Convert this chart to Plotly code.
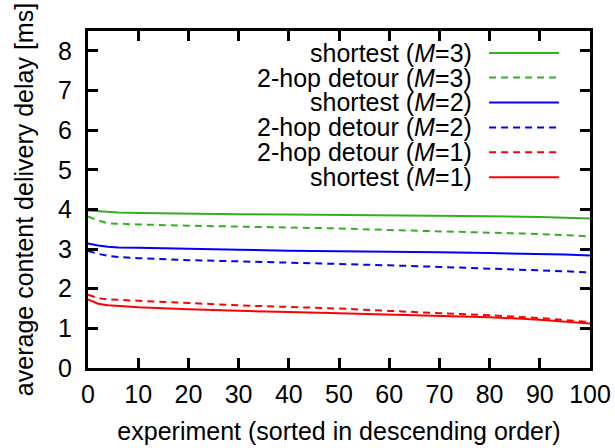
import plotly.graph_objects as go

experiment = [0, 2, 4, 6, 10, 20, 30, 40, 50, 60, 70, 80, 90, 95, 100]

shortest_m3 = [3.97, 3.95, 3.93, 3.92, 3.91, 3.89, 3.88, 3.87, 3.86, 3.86, 3.85, 3.83, 3.81, 3.79, 3.77]
detour_m3 = [3.82, 3.72, 3.65, 3.64, 3.62, 3.59, 3.57, 3.55, 3.52, 3.48, 3.45, 3.42, 3.38, 3.35, 3.32]
shortest_m2 = [3.14, 3.09, 3.06, 3.04, 3.03, 3.00, 2.98, 2.96, 2.95, 2.93, 2.92, 2.90, 2.88, 2.86, 2.84]
detour_m2 = [2.95, 2.88, 2.83, 2.80, 2.77, 2.72, 2.69, 2.66, 2.63, 2.59, 2.55, 2.51, 2.47, 2.44, 2.41]
detour_m1 = [1.85, 1.76, 1.73, 1.72, 1.70, 1.64, 1.58, 1.54, 1.50, 1.44, 1.39, 1.33, 1.26, 1.21, 1.16]
shortest_m1 = [1.73, 1.62, 1.58, 1.56, 1.53, 1.48, 1.44, 1.41, 1.38, 1.35, 1.32, 1.28, 1.22, 1.17, 1.12]

labels = [
    "shortest (<i>M</i>=3)",
    "2-hop detour (<i>M</i>=3)",
    "shortest (<i>M</i>=2)",
    "2-hop detour (<i>M</i>=2)",
    "2-hop detour (<i>M</i>=1)",
    "shortest (<i>M</i>=1)",
]
series = [shortest_m3, detour_m3, shortest_m2, detour_m2, detour_m1, shortest_m1]
colors = ["#33b020", "#33b020", "#0000ff", "#0000ff", "#ff0000", "#ff0000"]
dashes = ["solid", "7px,5px", "solid", "7px,5px", "7px,5px", "solid"]

FONT = "Liberation Sans, Arial, Helvetica, sans-serif"
FS = 25

fig = go.Figure()
for lab, ys, c, d in zip(labels, series, colors, dashes):
    fig.add_trace(go.Scatter(x=experiment, y=ys, mode="lines", name=lab,
                             line=dict(color=c, width=2, dash=d), showlegend=False))

# custom gnuplot-style legend: text on the left, sample on the right
row_y = [0.935, 0.862, 0.788, 0.714, 0.640, 0.566]
for lab, c, d, yy in zip(labels, colors, dashes, row_y):
    fig.add_annotation(xref="paper", yref="paper", x=0.769, y=yy, text=lab,
                       showarrow=False, xanchor="right", yanchor="middle",
                       font=dict(family=FONT, size=FS, color="black"))
    fig.add_shape(type="line", xref="paper", yref="paper", x0=0.799, x1=0.938,
                  y0=yy, y1=yy, line=dict(color=c, width=2, dash=d))

axis_common = dict(showline=True, linecolor="black", linewidth=3, mirror="ticks",
                   ticks="inside", ticklen=10, tickwidth=3, tickcolor="black",
                   showgrid=False, zeroline=False, automargin=False,
                   tickfont=dict(family=FONT, size=FS, color="black"))

fig.update_xaxes(range=[0, 100], tickmode="linear", tick0=0, dtick=10,
                 title=dict(text="experiment (sorted in descending order)",
                            font=dict(family=FONT, size=FS, color="black"), standoff=16),
                 ticklabelstandoff=2, **axis_common)
fig.update_yaxes(range=[0, 8.5], tickmode="linear", tick0=0, dtick=1,
                 title=dict(text="average content delivery delay [ms]",
                            font=dict(family=FONT, size=FS, color="black"), standoff=18),
                 ticklabelstandoff=8, **axis_common)

fig.update_layout(width=615, height=448, margin=dict(l=88, r=25, t=31, b=80),
                  plot_bgcolor="white", paper_bgcolor="white")

# remove the default 8px page margin so the figure fills the window exactly
fig.write_html("out.html", config={"displayModeBar": False},
               post_script="document.body.style.margin='0';")
